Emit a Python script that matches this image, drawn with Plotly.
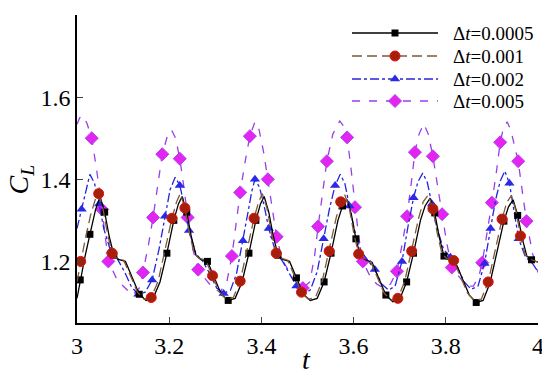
import plotly.graph_objects as go

# ---- data ----
series_names = ["Δ<i>t</i>=0.0005", "Δ<i>t</i>=0.001", "Δ<i>t</i>=0.002", "Δ<i>t</i>=0.005"]
x_title = "<i>t</i>"
y_title = "<i>C</i><sub><i>L</i></sub>"

t_0005 = [3.000, 3.007, 3.017, 3.028, 3.040, 3.050,
          3.060, 3.070, 3.080, 3.090, 3.105, 3.120, 3.135, 3.150, 3.165, 3.180, 3.195, 3.210, 3.220, 3.228,
          3.238, 3.248, 3.258, 3.268, 3.283, 3.298, 3.313, 3.328, 3.343, 3.358, 3.373, 3.388, 3.398, 3.406,
          3.416, 3.426, 3.436, 3.446, 3.461, 3.476, 3.491, 3.506, 3.521, 3.536, 3.551, 3.566, 3.576, 3.585,
          3.595, 3.605, 3.615, 3.625, 3.640, 3.655, 3.670, 3.685, 3.700, 3.715, 3.730, 3.745, 3.755, 3.766,
          3.776, 3.786, 3.796, 3.806, 3.821, 3.836, 3.851, 3.866, 3.881, 3.896, 3.911, 3.926, 3.936, 3.946,
          3.956, 3.966, 3.976, 3.986, 4.000]
cl_0005 = [1.110, 1.155, 1.210, 1.266, 1.325, 1.358,
           1.320, 1.260, 1.215, 1.205, 1.200, 1.160, 1.120, 1.105, 1.110, 1.150, 1.220, 1.300, 1.340, 1.358,
           1.320, 1.260, 1.215, 1.205, 1.200, 1.160, 1.120, 1.105, 1.110, 1.150, 1.220, 1.300, 1.340, 1.358,
           1.320, 1.260, 1.215, 1.205, 1.200, 1.160, 1.120, 1.105, 1.110, 1.150, 1.220, 1.300, 1.335, 1.352,
           1.315, 1.255, 1.212, 1.204, 1.198, 1.158, 1.118, 1.102, 1.108, 1.150, 1.220, 1.300, 1.335, 1.354,
           1.318, 1.258, 1.213, 1.204, 1.198, 1.158, 1.118, 1.100, 1.105, 1.148, 1.220, 1.298, 1.333, 1.350,
           1.312, 1.255, 1.212, 1.204, 1.198]
marks_0005 = [3.007, 3.028, 3.060, 3.080, 3.135, 3.195, 3.210, 3.238, 3.283, 3.328, 3.373, 3.388,
              3.436, 3.476, 3.536, 3.551, 3.576, 3.605, 3.670, 3.715, 3.730, 3.776, 3.796, 3.866,
              3.926, 3.956, 3.986]

t_001 = [3.000, 3.008, 3.018, 3.030, 3.040, 3.047,
         3.056, 3.066, 3.076, 3.086, 3.101, 3.116, 3.131, 3.146, 3.161, 3.176, 3.191, 3.206, 3.216, 3.224,
         3.234, 3.244, 3.254, 3.264, 3.279, 3.294, 3.309, 3.324, 3.339, 3.354, 3.369, 3.384, 3.394, 3.402,
         3.412, 3.422, 3.432, 3.442, 3.457, 3.472, 3.487, 3.502, 3.517, 3.532, 3.547, 3.562, 3.572, 3.581,
         3.591, 3.601, 3.611, 3.621, 3.636, 3.651, 3.666, 3.681, 3.696, 3.711, 3.726, 3.741, 3.751, 3.762,
         3.772, 3.782, 3.792, 3.802, 3.817, 3.832, 3.847, 3.862, 3.877, 3.892, 3.907, 3.922, 3.932, 3.942,
         3.952, 3.962, 3.972, 3.982, 4.000]
cl_001 = [1.150, 1.200, 1.255, 1.315, 1.352, 1.365,
          1.330, 1.268, 1.220, 1.208, 1.203, 1.165, 1.125, 1.108, 1.112, 1.152, 1.225, 1.305, 1.345, 1.365,
          1.330, 1.268, 1.220, 1.208, 1.203, 1.165, 1.125, 1.108, 1.112, 1.152, 1.225, 1.305, 1.345, 1.365,
          1.330, 1.268, 1.220, 1.208, 1.203, 1.165, 1.125, 1.108, 1.112, 1.152, 1.225, 1.305, 1.345, 1.362,
          1.328, 1.265, 1.218, 1.207, 1.202, 1.163, 1.123, 1.106, 1.110, 1.152, 1.225, 1.305, 1.345, 1.362,
          1.328, 1.265, 1.218, 1.207, 1.202, 1.163, 1.123, 1.105, 1.108, 1.150, 1.225, 1.303, 1.343, 1.360,
          1.325, 1.262, 1.216, 1.206, 1.198]
marks_001 = [3.008, 3.047, 3.076, 3.161, 3.206, 3.234, 3.294, 3.354, 3.384, 3.432, 3.487, 3.547,
             3.572, 3.611, 3.696, 3.726, 3.772, 3.817, 3.892, 3.922, 3.962]

t_002 = [3.000, 3.010, 3.018, 3.028,
         3.038, 3.048, 3.058, 3.073, 3.088, 3.103, 3.118, 3.133, 3.148, 3.163, 3.178, 3.191, 3.202, 3.213,
         3.223, 3.233, 3.243, 3.258, 3.273, 3.288, 3.303, 3.318, 3.333, 3.346, 3.360, 3.371, 3.379, 3.386,
         3.396, 3.406, 3.416, 3.431, 3.446, 3.461, 3.476, 3.491, 3.506, 3.521, 3.535, 3.548, 3.560, 3.571,
         3.581, 3.591, 3.601, 3.616, 3.631, 3.646, 3.661, 3.676, 3.690, 3.705, 3.718, 3.730, 3.740, 3.750,
         3.760, 3.770, 3.780, 3.795, 3.810, 3.825, 3.840, 3.855, 3.870, 3.884, 3.897, 3.908, 3.918, 3.928,
         3.938, 3.948, 3.958, 3.973, 3.988, 4.000]
cl_002 = [1.280, 1.327, 1.370, 1.412,
          1.390, 1.340, 1.280, 1.225, 1.205, 1.175, 1.138, 1.120, 1.125, 1.155, 1.230, 1.310, 1.375, 1.405,
          1.385, 1.335, 1.275, 1.218, 1.200, 1.170, 1.135, 1.122, 1.130, 1.170, 1.250, 1.320, 1.370, 1.400,
          1.380, 1.335, 1.280, 1.222, 1.200, 1.170, 1.140, 1.122, 1.130, 1.175, 1.255, 1.330, 1.385, 1.412,
          1.390, 1.335, 1.280, 1.225, 1.202, 1.180, 1.145, 1.130, 1.140, 1.200, 1.285, 1.355, 1.395, 1.415,
          1.392, 1.340, 1.285, 1.230, 1.210, 1.185, 1.150, 1.132, 1.140, 1.195, 1.280, 1.350, 1.395, 1.420,
          1.390, 1.320, 1.255, 1.210, 1.195, 1.175]
marks_002 = [3.010, 3.048, 3.073, 3.133, 3.163, 3.191, 3.223, 3.243, 3.318, 3.360, 3.386, 3.416,
             3.476, 3.535, 3.560, 3.591, 3.646, 3.705, 3.730, 3.770, 3.810, 3.884, 3.897, 3.938, 3.958]

t_005 = [3.000, 3.006, 3.013,
         3.022, 3.032, 3.043, 3.054, 3.068, 3.085, 3.100, 3.120, 3.135, 3.143, 3.155, 3.165, 3.175, 3.185, 3.196, 3.205,
         3.214, 3.223, 3.232, 3.240, 3.250, 3.263, 3.280, 3.295, 3.310, 3.325, 3.336, 3.345, 3.354, 3.365, 3.375, 3.386,
         3.395, 3.405, 3.414, 3.423, 3.433, 3.445, 3.460, 3.475, 3.490, 3.505, 3.515, 3.523, 3.533, 3.542, 3.555, 3.570,
         3.578, 3.586, 3.595, 3.603, 3.611, 3.620, 3.635, 3.650, 3.665, 3.680, 3.694, 3.705, 3.716, 3.725, 3.733, 3.742, 3.752,
         3.762, 3.772, 3.782, 3.792, 3.802, 3.813, 3.830, 3.845, 3.860, 3.872, 3.879, 3.890, 3.900, 3.910, 3.918, 3.925, 3.933,
         3.941, 3.949, 3.957, 3.966, 3.975, 3.988, 4.000]
cl_005 = [1.534, 1.550, 1.555,
          1.535, 1.500, 1.420, 1.327, 1.200, 1.160, 1.140, 1.118, 1.135, 1.173, 1.240, 1.307, 1.390, 1.461, 1.505, 1.520,
          1.500, 1.450, 1.380, 1.307, 1.235, 1.180, 1.155, 1.135, 1.125, 1.150, 1.213, 1.290, 1.368, 1.445, 1.505, 1.540,
          1.520, 1.465, 1.400, 1.330, 1.260, 1.205, 1.175, 1.150, 1.135, 1.150, 1.210, 1.285, 1.370, 1.444, 1.510, 1.542,
          1.530, 1.502, 1.420, 1.332, 1.260, 1.200, 1.165, 1.145, 1.135, 1.145, 1.176, 1.240, 1.310, 1.390, 1.466, 1.510, 1.535,
          1.510, 1.456, 1.385, 1.315, 1.245, 1.185, 1.160, 1.140, 1.140, 1.165, 1.197, 1.270, 1.343, 1.420, 1.490, 1.525, 1.540,
          1.520, 1.485, 1.444, 1.370, 1.298, 1.220, 1.173]
marks_005 = [3.032, 3.054, 3.068, 3.143, 3.165, 3.185, 3.223, 3.240, 3.263, 3.336, 3.354, 3.375,
             3.414, 3.433, 3.490, 3.523, 3.542, 3.586, 3.603, 3.620, 3.694, 3.716, 3.733, 3.772,
             3.792, 3.813, 3.879, 3.900, 3.918, 3.957, 3.975]

x_ticks = [3, 3.2, 3.4, 3.6, 3.8, 4]
y_ticks = [1.2, 1.4, 1.6, 1.8]
x_range = [3, 4]
y_range = [1.05, 1.8]

# ---- styles ----
styles = [
    dict(line=dict(color="#000000", width=1.3, dash="solid"),
         marker=dict(symbol="square", size=7, color="#000000")),
    dict(line=dict(color="#7d5a3a", width=1.3, dash="10px,5px"),
         marker=dict(symbol="circle", size=10, color="#a5200a", line=dict(color="#e01010", width=1))),
    dict(line=dict(color="#2424dd", width=1.3, dash="dashdot"),
         marker=dict(symbol="triangle-up", size=9, color="#2a2ae6")),
    dict(line=dict(color="#9a3fe6", width=1.3, dash="8px,9px"),
         marker=dict(symbol="diamond", size=10, color="#e424f0", line=dict(color="#b040f0", width=1))),
]

data = [(t_0005, cl_0005, marks_0005), (t_001, cl_001, marks_001),
        (t_002, cl_002, marks_002), (t_005, cl_005, marks_005)]


def pick(tx, cy, marks):
    lookup = {round(a, 3): b for a, b in zip(tx, cy)}
    xs = [m for m in marks if round(m, 3) in lookup]
    return xs, [lookup[round(m, 3)] for m in xs]


fig = go.Figure()
draw_order = [3, 2, 0, 1]
for i in draw_order:
    tx, cy, mk = data[i]
    st = styles[i]
    fig.add_trace(go.Scatter(x=tx, y=cy, mode="lines", line=st["line"], showlegend=False))
    mx, my = pick(tx, cy, mk)
    fig.add_trace(go.Scatter(x=mx, y=my, mode="markers", marker=st["marker"], showlegend=False))

# ---- legend drawn on an overlay axis measured in page pixels of the plot area ----
L, R, T, B = 77, 538, 15, 323          # plot area on the page
OFF = 8                                 # page body margin around the figure
W, H = 550 - OFF, 379 - OFF
leg_rows = [33, 56, 79, 101]
leg_x0, leg_x1, leg_xm, leg_text_x = 352, 438, 395, 451
font_family = "Liberation Serif"
annotations = []
for i, yrow in enumerate(leg_rows):
    st = styles[i]
    fig.add_trace(go.Scatter(x=[leg_x0, leg_x1], y=[yrow, yrow], mode="lines", line=st["line"],
                             xaxis="x2", yaxis="y2", showlegend=False))
    fig.add_trace(go.Scatter(x=[leg_xm], y=[yrow], mode="markers", marker=st["marker"],
                             xaxis="x2", yaxis="y2", showlegend=False))
    annotations.append(dict(x=leg_text_x, y=yrow, xref="x2", yref="y2", text=series_names[i],
                            showarrow=False, xanchor="left", yanchor="middle",
                            font=dict(size=19, family=font_family, color="black")))

# axis titles as annotations
annotations.append(dict(x=0.497, y=-0.12, xref="paper", yref="paper", text=x_title, showarrow=False,
                        xanchor="center", yanchor="middle",
                        font=dict(size=28, family=font_family, color="black")))
annotations.append(dict(x=-0.122, y=0.465, xref="paper", yref="paper", text=y_title, showarrow=False,
                        xanchor="center", yanchor="middle", textangle=-90,
                        font=dict(size=28, family=font_family, color="black")))

fig.update_layout(
    width=W, height=H,
    margin=dict(l=L - OFF, r=W - (R - OFF), t=T - OFF, b=H - (B - OFF)),
    paper_bgcolor="white", plot_bgcolor="white",
    showlegend=False,
    annotations=annotations,
    xaxis=dict(
        range=x_range, tickmode="linear", tick0=x_ticks[0], dtick=x_ticks[1] - x_ticks[0],
        ticks="inside", ticklen=6,
        showline=True, linecolor="black", linewidth=1.5,
        showgrid=False, zeroline=False,
        tickfont=dict(size=24, family=font_family, color="black"),
    ),
    yaxis=dict(
        range=y_range, tickmode="linear", tick0=y_ticks[0], dtick=y_ticks[1] - y_ticks[0],
        ticks="inside", ticklen=6,
        showline=True, linecolor="black", linewidth=1.5,
        showgrid=False, zeroline=False,
        tickfont=dict(size=24, family=font_family, color="black"),
    ),
    xaxis2=dict(overlaying="x", range=[L, R], visible=False, fixedrange=True),
    yaxis2=dict(overlaying="y", range=[B, T], visible=False, fixedrange=True),
)

fig.write_html("out.html")
